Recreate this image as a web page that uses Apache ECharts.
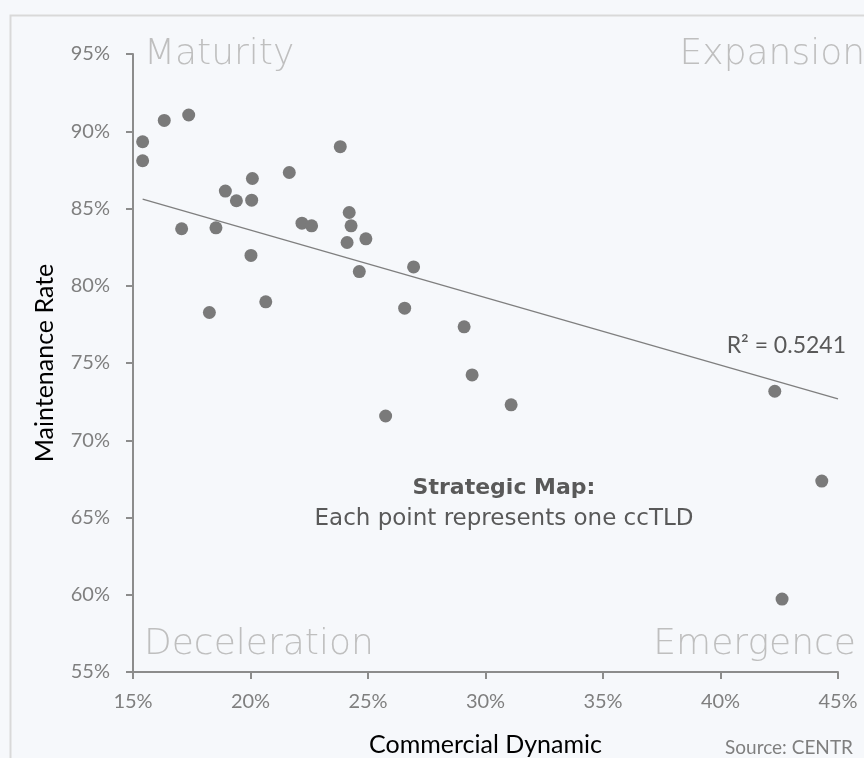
<!DOCTYPE html>
<html><head><meta charset="utf-8">
<script src="https://cdn.jsdelivr.net/npm/echarts@6/dist/echarts.min.js"></script>
<style>html,body{margin:0;padding:0;background:#f6f8fb;}#c{width:864px;height:758px;}</style>
</head><body><div id="c"></div>
<script>
// Commercial Dynamic (%)
var commercialDynamic = [15.41, 15.41, 16.33, 17.37, 17.07, 18.53, 18.93, 19.40, 20.08, 20.05, 18.25, 20.02, 20.65, 21.65, 22.19, 22.60, 23.82, 24.20, 24.28, 24.11, 24.91, 24.63, 26.94, 26.56, 29.09, 29.43, 31.09, 25.75, 42.31, 44.31, 42.62];
// Maintenance Rate (%)
var maintenanceRate = [89.32, 88.09, 90.70, 91.05, 83.69, 83.75, 86.13, 85.50, 86.94, 85.54, 78.27, 81.96, 78.96, 87.33, 84.05, 83.88, 89.00, 84.74, 83.88, 82.80, 83.04, 80.92, 81.22, 78.55, 77.34, 74.23, 72.29, 71.57, 73.17, 67.36, 59.72];
// Linear trend line as drawn in the source
var trendX = [15.41, 45];
var trendY = [85.61, 72.67];
var xTicks = [15, 20, 25, 30, 35, 40, 45];
var yTicks = [55, 60, 65, 70, 75, 80, 85, 90, 95];
var quadrantLabels = ['Maturity', 'Expansion', 'Deceleration', 'Emergence'];
var r2Label = 'R\u00b2 = 0.5241';

var pts = commercialDynamic.map(function (x, i) { return [x, maintenanceRate[i]]; });
var trend = trendX.map(function (x, i) { return [x, trendY[i]]; });

var calibri = 'Lato, "Open Sans", sans-serif';
var gothic = '"DejaVu Sans", sans-serif';

var chart = echarts.init(document.getElementById('c'), null, { renderer: 'canvas' });
chart.setOption({
  backgroundColor: '#f6f8fb',
  animation: false,
  grid: { left: 133, right: 26, top: 54, bottom: 86, containLabel: false, outerBoundsMode: 'none' },
  xAxis: {
    type: 'value', min: xTicks[0], max: xTicks[xTicks.length - 1], interval: 5,
    name: 'Commercial Dynamic', nameLocation: 'middle', nameGap: 60,
    nameTextStyle: { color: '#000', fontSize: 25, fontFamily: calibri },
    axisLine: { show: true, lineStyle: { color: '#8c8c8c', width: 2 } },
    axisTick: { show: true, length: 7, lineStyle: { color: '#8c8c8c', width: 2 } },
    axisLabel: { color: '#7f7f7f', fontSize: 20, fontFamily: calibri, margin: 20, formatter: '{value}%' },
    splitLine: { show: false }
  },
  yAxis: {
    type: 'value', min: yTicks[0], max: yTicks[yTicks.length - 1], interval: 5,
    name: 'Maintenance Rate', nameLocation: 'middle', nameGap: 76, nameRotate: 90,
    nameTextStyle: { color: '#000', fontSize: 25, fontFamily: calibri },
    axisLine: { show: true, lineStyle: { color: '#8c8c8c', width: 2 } },
    axisTick: { show: true, length: 7, lineStyle: { color: '#8c8c8c', width: 2 } },
    axisLabel: { color: '#7f7f7f', fontSize: 20, fontFamily: calibri, margin: 23, formatter: '{value}%' },
    splitLine: { show: false }
  },
  graphic: [
    { type: 'rect', left: 8, top: 13, shape: { width: 900, height: 800 }, style: { fill: null, stroke: '#d9d9d9', lineWidth: 2 }, silent: true, z: -1 },
    { type: 'text', x: 144, y: 55, style: { text: quadrantLabels[0], fill: '#bfbfbf', font: '200 36px ' + gothic, textAlign: 'left', textVerticalAlign: 'middle' } },
    { type: 'text', x: 865, y: 55, style: { text: quadrantLabels[1], fill: '#bfbfbf', font: '200 36px ' + gothic, textAlign: 'right', textVerticalAlign: 'middle' } },
    { type: 'text', x: 144, y: 645, style: { text: quadrantLabels[2], fill: '#bfbfbf', font: '200 36px ' + gothic, textAlign: 'left', textVerticalAlign: 'middle' } },
    { type: 'text', x: 856, y: 645, style: { text: quadrantLabels[3], fill: '#bfbfbf', font: '200 36px ' + gothic, textAlign: 'right', textVerticalAlign: 'middle' } },
    { type: 'text', x: 504, y: 488, style: { text: 'Strategic Map:', fill: '#595959', font: 'bold 22px ' + gothic, textAlign: 'center', textVerticalAlign: 'middle' } },
    { type: 'text', x: 504, y: 519, style: { text: 'Each point represents one ccTLD', fill: '#595959', font: '23px ' + gothic, textAlign: 'center', textVerticalAlign: 'middle' } },
    { type: 'text', x: 846, y: 346, style: { text: r2Label, fill: '#595959', font: '23px ' + calibri, textAlign: 'right', textVerticalAlign: 'middle' } },
    { type: 'text', x: 853, y: 748, style: { text: 'Source: CENTR', fill: '#7f7f7f', font: '19px ' + calibri, textAlign: 'right', textVerticalAlign: 'middle' } }
  ],
  series: [
    { type: 'line', data: trend, symbol: 'none', lineStyle: { color: '#7f7f7f', width: 1.3 }, z: 1, silent: true },
    { type: 'scatter', data: pts, symbol: 'circle', symbolSize: 13, itemStyle: { color: '#7a7a7a', opacity: 1 }, z: 2 }
  ]
});
</script></body></html>
